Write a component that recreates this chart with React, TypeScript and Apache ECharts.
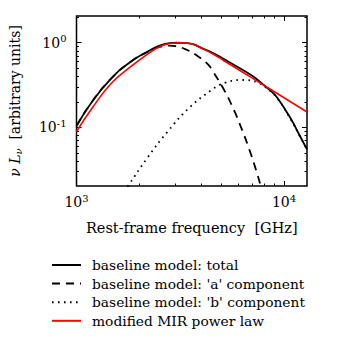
import React, { useEffect, useRef } from 'react';
import * as echarts from 'echarts';

// Rest-frame frequency [GHz] and nu L_nu [arbitrary units]
const freqTotal = [1000, 1188, 1472, 1825, 2263, 2520, 2805, 3050, 3415, 3700, 3945, 4550, 5641, 6991, 8067, 8700, 9316, 10748, 11966, 12900];
const lumTotal = [0.104, 0.201, 0.379, 0.597, 0.815, 0.927, 0.99, 1.0, 0.99, 0.95, 0.88, 0.755, 0.56, 0.41, 0.31, 0.265, 0.221, 0.128, 0.078, 0.055];

const freqA = [1000, 1188, 1472, 1825, 2263, 2400, 2600, 2800, 3000, 3415, 3873, 4312, 4550, 5067, 5641, 6280, 6866, 7244, 7732, 8100];
const lumA = [0.104, 0.201, 0.379, 0.597, 0.81, 0.865, 0.91, 0.925, 0.91, 0.82, 0.684, 0.55, 0.455, 0.296, 0.175, 0.0932, 0.0513, 0.0344, 0.02, 0.0125];

const freqB = [1700, 1781, 2198, 2746, 3515, 4467, 4887, 5248, 5641, 6063, 6509, 6991, 7516, 8067, 8700, 9316, 10748, 11966, 12900];
const lumB = [0.0174, 0.0207, 0.0439, 0.089, 0.173, 0.276, 0.317, 0.34, 0.356, 0.363, 0.363, 0.356, 0.337, 0.303, 0.262, 0.218, 0.126, 0.077, 0.055];

const freqMir = [1000, 1188, 1472, 1825, 2263, 2520, 2805, 3124, 3400, 3700, 3945, 4550, 5067, 6300, 7786, 10000, 12900];
const lumMir = [0.0895, 0.168, 0.332, 0.521, 0.77, 0.9, 0.98, 1.0, 0.99, 0.95, 0.88, 0.736, 0.625, 0.451, 0.327, 0.224, 0.152];

const seriesNames = [
  'baseline model: total',
  "baseline model: 'a' component",
  "baseline model: 'b' component",
  'modified MIR power law',
];

const xMin = 1000;
const xMax = 12900;
const yMin = 0.0203;
const yMax = 2.07;
const xMajorTicks = [1000, 10000];
const xMinorTicks = [2000, 3000, 4000, 5000, 6000, 7000, 8000, 9000];
const yMajorTicks = [0.1, 1];
const yMinorTicks = [0.03, 0.04, 0.05, 0.06, 0.07, 0.08, 0.09, 0.2, 0.3, 0.4, 0.5, 0.6, 0.7, 0.8, 0.9, 2];

const FONT = 'DejaVu Serif';
const lg = (v: number) => Math.log10(v);
const toPts = (f: number[], l: number[]) => f.map((v, i) => [lg(v), lg(l[i])]);

const supRich = {
  b: { fontFamily: FONT, fontSize: 14, color: '#000', lineHeight: 18 },
  s: { fontFamily: FONT, fontSize: 10, color: '#000', lineHeight: 10, verticalAlign: 'top' },
};

function axis(kind: 'x' | 'y', position: string, major: boolean, withLabels: boolean, extra: any = {}) {
  const ticks = kind === 'x' ? (major ? xMajorTicks : xMinorTicks) : major ? yMajorTicks : yMinorTicks;
  const vals = ticks.map(lg);
  return {
    type: 'value',
    position,
    min: kind === 'x' ? lg(xMin) : lg(yMin),
    max: kind === 'x' ? lg(xMax) : lg(yMax),
    splitLine: { show: false },
    axisLine: { show: false, onZero: false },
    axisTick: {
      show: true,
      inside: true,
      length: major ? 5 : 2.5,
      customValues: vals,
      lineStyle: { color: '#000', width: 1 },
    },
    axisLabel: withLabels
      ? {
          show: true,
          customValues: vals,
          formatter: (v: number) => `{b|10}{s|${Math.round(v)}}`,
          rich: supRich,
          margin: kind === 'x' ? 7 : 10,
        }
      : { show: false },
    ...extra,
  };
}

export default function App() {
  const ref = useRef<HTMLDivElement>(null);
  useEffect(() => {
    if (!ref.current) return;
    const chart = echarts.init(ref.current, undefined, { renderer: 'svg' });
    const lineBase = {
      type: 'line',
      symbol: 'none',
      showSymbol: false,
      smooth: 0.5,
      xAxisIndex: 0,
      yAxisIndex: 0,
    };
    chart.setOption({
      animation: false,
      backgroundColor: '#fff',
      grid: { left: 69, top: 16, width: 238, height: 170, show: true, borderColor: '#000', borderWidth: 1.5, backgroundColor: 'transparent' },
      xAxis: [
        axis('x', 'bottom', true, true, {
          name: 'Rest-frame frequency\u00a0\u00a0[GHz]',
          nameLocation: 'middle',
          nameGap: 34,
          nameTextStyle: { fontFamily: FONT, fontSize: 14.5, color: '#000' },
        }),
        axis('x', 'bottom', false, false),
        axis('x', 'top', true, false),
        axis('x', 'top', false, false),
      ],
      yAxis: [
        axis('y', 'left', true, true, {
          name: '{i|ν L}{sub|ν}{n|  [arbitrary units]}',
          nameLocation: 'middle',
          nameRotate: 90,
          nameGap: 53,
          nameTextStyle: {
            rich: {
              i: { fontFamily: FONT, fontSize: 14, fontStyle: 'italic', color: '#000', lineHeight: 17 },
              sub: { fontFamily: FONT, fontSize: 10, fontStyle: 'italic', color: '#000', lineHeight: 10, verticalAlign: 'bottom' },
              n: { fontFamily: FONT, fontSize: 14, color: '#000', lineHeight: 17 },
            },
          },
        }),
        axis('y', 'left', false, false),
        axis('y', 'right', true, false),
        axis('y', 'right', false, false),
      ],
      legend: {
        orient: 'vertical',
        left: 51,
        top: 258,
        padding: 0,
        itemWidth: 29,
        itemHeight: 14,
        itemGap: 4.6,
        itemStyle: { opacity: 0 },
        textStyle: { fontFamily: FONT, fontSize: 13.8, color: '#000', padding: [0, 0, 0, 6] },
        data: seriesNames,
      },
      series: [
        { ...lineBase, name: seriesNames[0], data: toPts(freqTotal, lumTotal), lineStyle: { color: '#000', width: 1.8 }, itemStyle: { color: '#000' } },
        { ...lineBase, name: seriesNames[1], data: toPts(freqA, lumA), lineStyle: { color: '#000', width: 1.8, type: [8, 6] }, itemStyle: { color: '#000' } },
        { ...lineBase, name: seriesNames[2], data: toPts(freqB, lumB), lineStyle: { color: '#000', width: 1.8, type: [1.6, 4.4] }, itemStyle: { color: '#000' } },
        { ...lineBase, name: seriesNames[3], data: toPts(freqMir, lumMir), lineStyle: { color: '#ff0000', width: 1.6 }, itemStyle: { color: '#ff0000' } },
      ],
    });
    return () => chart.dispose();
  }, []);
  return <div ref={ref} style={{ position: 'fixed', left: 0, top: 0, width: 341, height: 341 }} />;
}
